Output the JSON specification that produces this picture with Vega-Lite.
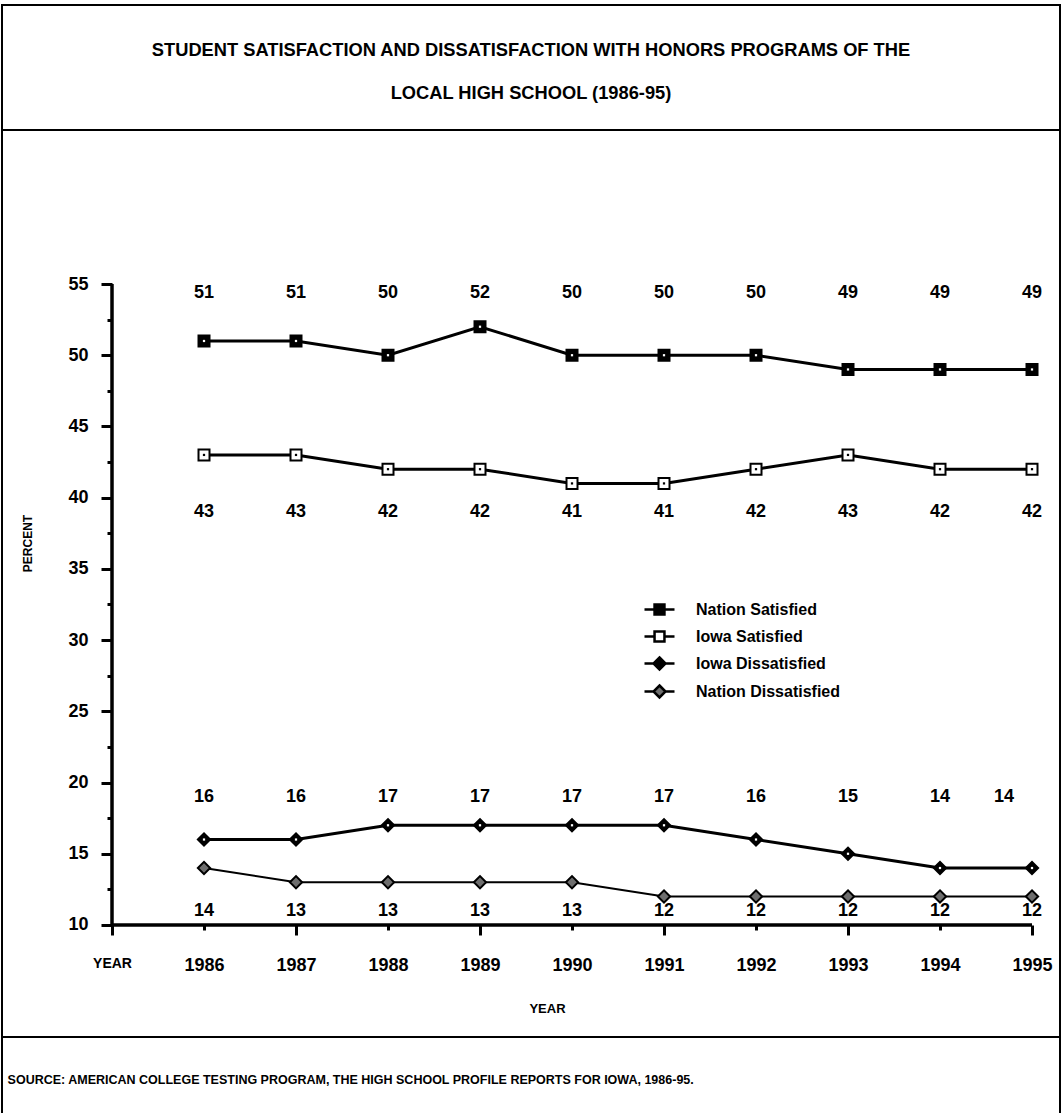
{
  "$schema": "https://vega.github.io/schema/vega-lite/v6.json",
  "width": 1058,
  "height": 1110,
  "autosize": {"type": "none"},
  "padding": {"left": 2, "top": 5, "right": 2, "bottom": 0},
  "background": "white",
  "config": {
    "view": {"stroke": "black", "strokeWidth": 2},
    "font": "Liberation Sans",
    "text": {"font": "Liberation Sans", "color": "black"}
  },
  "title": {
    "text": ["STUDENT SATISFACTION AND DISSATISFACTION WITH HONORS PROGRAMS OF THE", "LOCAL HIGH SCHOOL (1986-95)"],
    "font": "Liberation Sans",
    "fontSize": 18.3,
    "fontWeight": "bold",
    "lineHeight": 43,
    "anchor": "middle",
    "frame": "group",
    "color": "black",
    "offset": -98
  },
  "data": {
    "values": [
      {"year": 1986, "series": "Nation Satisfied", "value": 51},
      {"year": 1987, "series": "Nation Satisfied", "value": 51},
      {"year": 1988, "series": "Nation Satisfied", "value": 50},
      {"year": 1989, "series": "Nation Satisfied", "value": 52},
      {"year": 1990, "series": "Nation Satisfied", "value": 50},
      {"year": 1991, "series": "Nation Satisfied", "value": 50},
      {"year": 1992, "series": "Nation Satisfied", "value": 50},
      {"year": 1993, "series": "Nation Satisfied", "value": 49},
      {"year": 1994, "series": "Nation Satisfied", "value": 49},
      {"year": 1995, "series": "Nation Satisfied", "value": 49},
      {"year": 1986, "series": "Iowa Satisfied", "value": 43},
      {"year": 1987, "series": "Iowa Satisfied", "value": 43},
      {"year": 1988, "series": "Iowa Satisfied", "value": 42},
      {"year": 1989, "series": "Iowa Satisfied", "value": 42},
      {"year": 1990, "series": "Iowa Satisfied", "value": 41},
      {"year": 1991, "series": "Iowa Satisfied", "value": 41},
      {"year": 1992, "series": "Iowa Satisfied", "value": 42},
      {"year": 1993, "series": "Iowa Satisfied", "value": 43},
      {"year": 1994, "series": "Iowa Satisfied", "value": 42},
      {"year": 1995, "series": "Iowa Satisfied", "value": 42},
      {"year": 1986, "series": "Iowa Dissatisfied", "value": 16},
      {"year": 1987, "series": "Iowa Dissatisfied", "value": 16},
      {"year": 1988, "series": "Iowa Dissatisfied", "value": 17},
      {"year": 1989, "series": "Iowa Dissatisfied", "value": 17},
      {"year": 1990, "series": "Iowa Dissatisfied", "value": 17},
      {"year": 1991, "series": "Iowa Dissatisfied", "value": 17},
      {"year": 1992, "series": "Iowa Dissatisfied", "value": 16},
      {"year": 1993, "series": "Iowa Dissatisfied", "value": 15},
      {"year": 1994, "series": "Iowa Dissatisfied", "value": 14},
      {"year": 1995, "series": "Iowa Dissatisfied", "value": 14},
      {"year": 1986, "series": "Nation Dissatisfied", "value": 14},
      {"year": 1987, "series": "Nation Dissatisfied", "value": 13},
      {"year": 1988, "series": "Nation Dissatisfied", "value": 13},
      {"year": 1989, "series": "Nation Dissatisfied", "value": 13},
      {"year": 1990, "series": "Nation Dissatisfied", "value": 13},
      {"year": 1991, "series": "Nation Dissatisfied", "value": 12},
      {"year": 1992, "series": "Nation Dissatisfied", "value": 12},
      {"year": 1993, "series": "Nation Dissatisfied", "value": 12},
      {"year": 1994, "series": "Nation Dissatisfied", "value": 12},
      {"year": 1995, "series": "Nation Dissatisfied", "value": 12}
    ]
  },
  "layer": [
    {
      "transform": [{"filter": "datum.series != 'Nation Dissatisfied'"}],
      "mark": {"type": "line", "color": "black", "strokeWidth": 3},
      "encoding": {
        "x": {
          "field": "year", "type": "quantitative",
          "scale": {"domain": [1983.8043, 1995.3043], "nice": false, "zero": false},
          "axis": {
            "values": [1985, 1986, 1987, 1988, 1989, 1990, 1991, 1992, 1993, 1994, 1995],
            "labelExpr": "datum.value == 1985 ? 'YEAR' : '' + datum.value",
            "domain": false, "grid": false, "offset": -190,
            "tickColor": "black", "tickWidth": 3,
            "tickSize": {"condition": {"test": "datum.value % 2 == 1", "value": 10}, "value": 5},
            "labelPadding": {"condition": {"test": "datum.value % 2 == 1", "value": 21}, "value": 26},
            "labelFontSize": {"condition": {"test": "datum.value == 1985", "value": 14}, "value": 18},
            "labelFont": "Liberation Sans", "labelFontWeight": "bold", "labelColor": "black",
            "labelFlush": false, "labelOverlap": false,
            "title": "YEAR", "titleFont": "Liberation Sans", "titleFontSize": 13, "titleFontWeight": "bold",
            "titleColor": "black", "titleX": 545, "titleY": 83, "titleBaseline": "middle", "titleAlign": "center"
          }
        },
        "y": {
          "field": "value", "type": "quantitative",
          "scale": {"domain": [-3.339, 74.587], "nice": false, "zero": false},
          "axis": {
            "values": [10, 12.5, 15, 17.5, 20, 22.5, 25, 27.5, 30, 32.5, 35, 37.5, 40, 42.5, 45, 47.5, 50, 52.5, 55],
            "labelExpr": "datum.value % 5 == 0 ? datum.label : ''",
            "domain": false, "grid": false, "offset": -110,
            "tickColor": "black", "tickWidth": 3,
            "tickSize": {"condition": {"test": "datum.value % 5 == 0", "value": 11}, "value": 5},
            "labelFont": "Liberation Sans", "labelFontWeight": "bold", "labelColor": "black",
            "labelFontSize": 18, "labelPadding": 13, "labelFlush": false, "labelOverlap": false,
            "title": "PERCENT", "titleFont": "Liberation Sans", "titleFontSize": 12, "titleFontWeight": "bold",
            "titleColor": "black", "titleX": -85, "titleY": 538, "titleAngle": -90,
            "titleBaseline": "middle", "titleAlign": "center"
          }
        },
        "detail": {"field": "series"}
      }
    },
    {
      "transform": [{"filter": "datum.series == 'Nation Dissatisfied'"}],
      "mark": {"type": "line", "color": "black", "strokeWidth": 2},
      "encoding": {
        "x": {"field": "year", "type": "quantitative", "scale": {"domain": [1983.8043, 1995.3043], "nice": false, "zero": false}},
        "y": {"field": "value", "type": "quantitative", "scale": {"domain": [-3.339, 74.587], "nice": false, "zero": false}}
      }
    },
    {
      "data": {"values": [{}]},
      "mark": {"type": "rule", "color": "black", "strokeWidth": 3.5},
      "encoding": {
        "x": {"datum": 1985, "type": "quantitative", "scale": {"domain": [1983.8043, 1995.3043], "nice": false, "zero": false}},
        "x2": {"datum": 1995},
        "y": {"datum": 10, "type": "quantitative", "scale": {"domain": [-3.339, 74.587], "nice": false, "zero": false}}
      }
    },
    {
      "data": {"values": [{}]},
      "mark": {"type": "rule", "color": "black", "strokeWidth": 3.5},
      "encoding": {
        "x": {"datum": 1985, "type": "quantitative", "scale": {"domain": [1983.8043, 1995.3043], "nice": false, "zero": false}},
        "y": {"datum": 10, "type": "quantitative", "scale": {"domain": [-3.339, 74.587], "nice": false, "zero": false}},
        "y2": {"datum": 55}
      }
    },
    {
      "data": {"values": [{}]},
      "mark": {"type": "rule", "color": "black", "strokeWidth": 2},
      "encoding": {
        "y": {"datum": 65.811, "type": "quantitative", "scale": {"domain": [-3.339, 74.587], "nice": false, "zero": false}}
      }
    },
    {
      "data": {"values": [{}]},
      "mark": {"type": "rule", "color": "black", "strokeWidth": 2},
      "encoding": {
        "y": {"datum": 2.135, "type": "quantitative", "scale": {"domain": [-3.339, 74.587], "nice": false, "zero": false}}
      }
    },
    {
      "mark": {"type": "point", "filled": true, "stroke": "black", "strokeWidth": 2, "opacity": 1},
      "encoding": {
        "x": {"field": "year", "type": "quantitative", "scale": {"domain": [1983.8043, 1995.3043], "nice": false, "zero": false}},
        "y": {"field": "value", "type": "quantitative", "scale": {"domain": [-3.339, 74.587], "nice": false, "zero": false}},
        "shape": {"condition": {"test": "datum.series == 'Nation Satisfied' || datum.series == 'Iowa Satisfied'", "value": "square"}, "value": "diamond"},
        "size": {"condition": {"test": "datum.series == 'Nation Satisfied' || datum.series == 'Iowa Satisfied'", "value": 121}, "value": 150},
        "fill": {"condition": [
          {"test": "datum.series == 'Iowa Satisfied'", "value": "white"},
          {"test": "datum.series == 'Nation Dissatisfied'", "value": "#6e6e6e"}
        ], "value": "black"}
      }
    },
    {
      "transform": [{"filter": "datum.series != 'Nation Dissatisfied'"}],
      "mark": {"type": "point", "filled": true, "shape": "square", "size": 5, "opacity": 1},
      "encoding": {
        "x": {"field": "year", "type": "quantitative", "scale": {"domain": [1983.8043, 1995.3043], "nice": false, "zero": false}},
        "y": {"field": "value", "type": "quantitative", "scale": {"domain": [-3.339, 74.587], "nice": false, "zero": false}},
        "fill": {"condition": {"test": "datum.series == 'Iowa Satisfied'", "value": "black"}, "value": "white"}
      }
    },
    {
      "mark": {"type": "point", "filled": true, "opacity": 0, "stroke": "black"},
      "encoding": {
        "x": {"field": "year", "type": "quantitative", "scale": {"domain": [1983.8043, 1995.3043], "nice": false, "zero": false}},
        "y": {"field": "value", "type": "quantitative", "scale": {"domain": [-3.339, 74.587], "nice": false, "zero": false}},
        "shape": {
          "field": "series", "type": "nominal",
          "scale": {
            "domain": ["Nation Satisfied", "Iowa Satisfied", "Iowa Dissatisfied", "Nation Dissatisfied"],
            "range": [
              "M-1,0H-0.33M0.33,0H1M-0.33,-0.33H0.33V0.33H-0.33Z",
              "M-1,0H-0.33M0.33,0H1M-0.33,-0.33H0.33V0.33H-0.33Z",
              "M-1,0H-0.4M0.4,0H1M0,-0.4L0.4,0L0,0.4L-0.4,0Z",
              "M-1,0H-0.4M0.4,0H1M0,-0.4L0.4,0L0,0.4L-0.4,0Z"
            ]
          },
          "legend": {
            "title": null, "orient": "none", "legendX": 641, "legendY": 588,
            "symbolSize": 900, "symbolStrokeWidth": 2.5, "symbolStrokeColor": "black", "symbolOpacity": 1,
            "labelFont": "Liberation Sans", "labelFontSize": 16, "labelFontWeight": "bold", "labelColor": "black", "labelOffset": 20,
            "rowPadding": 0, "padding": 0, "labelLimit": 300,
            "encode": {"symbols": {"update": {"stroke": {"value": "black"}, "strokeWidth": {"value": 2.5}, "opacity": {"value": 1}}}}
          }
        },
        "fill": {
          "field": "series", "type": "nominal",
          "scale": {
            "domain": ["Nation Satisfied", "Iowa Satisfied", "Iowa Dissatisfied", "Nation Dissatisfied"],
            "range": ["black", "white", "black", "#6e6e6e"]
          },
          "legend": {
            "title": null, "orient": "none", "legendX": 641, "legendY": 588,
            "symbolSize": 900, "symbolStrokeWidth": 2.5, "symbolStrokeColor": "black", "symbolOpacity": 1,
            "labelFont": "Liberation Sans", "labelFontSize": 16, "labelFontWeight": "bold", "labelColor": "black", "labelOffset": 20,
            "rowPadding": 0, "padding": 0, "labelLimit": 300,
            "encode": {"symbols": {"update": {"stroke": {"value": "black"}, "strokeWidth": {"value": 2.5}, "opacity": {"value": 1}}}}
          }
        }
      }
    },
    {
      "transform": [{"filter": "datum.series == 'Nation Satisfied'"}],
      "mark": {"type": "text", "fontSize": 18, "fontWeight": "bold", "baseline": "middle", "align": "center"},
      "encoding": {
        "x": {"field": "year", "type": "quantitative", "scale": {"domain": [1983.8043, 1995.3043], "nice": false, "zero": false}},
        "y": {"datum": 54.37, "type": "quantitative", "scale": {"domain": [-3.339, 74.587], "nice": false, "zero": false}},
        "text": {"field": "value", "type": "quantitative"}
      }
    },
    {
      "transform": [{"filter": "datum.series == 'Iowa Satisfied'"}],
      "mark": {"type": "text", "fontSize": 18, "fontWeight": "bold", "baseline": "middle", "align": "center"},
      "encoding": {
        "x": {"field": "year", "type": "quantitative", "scale": {"domain": [1983.8043, 1995.3043], "nice": false, "zero": false}},
        "y": {"datum": 38.99, "type": "quantitative", "scale": {"domain": [-3.339, 74.587], "nice": false, "zero": false}},
        "text": {"field": "value", "type": "quantitative"}
      }
    },
    {
      "transform": [{"filter": "datum.series == 'Iowa Dissatisfied' && datum.year < 1995"}],
      "mark": {"type": "text", "fontSize": 18, "fontWeight": "bold", "baseline": "middle", "align": "center"},
      "encoding": {
        "x": {"field": "year", "type": "quantitative", "scale": {"domain": [1983.8043, 1995.3043], "nice": false, "zero": false}},
        "y": {"datum": 18.98, "type": "quantitative", "scale": {"domain": [-3.339, 74.587], "nice": false, "zero": false}},
        "text": {"field": "value", "type": "quantitative"}
      }
    },
    {
      "transform": [{"filter": "datum.series == 'Iowa Dissatisfied' && datum.year == 1995"}],
      "mark": {"type": "text", "fontSize": 18, "fontWeight": "bold", "baseline": "middle", "align": "center", "dx": -28},
      "encoding": {
        "x": {"field": "year", "type": "quantitative", "scale": {"domain": [1983.8043, 1995.3043], "nice": false, "zero": false}},
        "y": {"datum": 18.98, "type": "quantitative", "scale": {"domain": [-3.339, 74.587], "nice": false, "zero": false}},
        "text": {"field": "value", "type": "quantitative"}
      }
    },
    {
      "transform": [{"filter": "datum.series == 'Nation Dissatisfied'"}],
      "mark": {"type": "text", "fontSize": 18, "fontWeight": "bold", "baseline": "middle", "align": "center"},
      "encoding": {
        "x": {"field": "year", "type": "quantitative", "scale": {"domain": [1983.8043, 1995.3043], "nice": false, "zero": false}},
        "y": {"datum": 11.0, "type": "quantitative", "scale": {"domain": [-3.339, 74.587], "nice": false, "zero": false}},
        "text": {"field": "value", "type": "quantitative"}
      }
    },
    {
      "data": {"values": [{"note": "SOURCE: AMERICAN COLLEGE TESTING PROGRAM, THE HIGH SCHOOL PROFILE REPORTS FOR IOWA, 1986-95."}]},
      "mark": {"type": "text", "fontSize": 12.5, "fontWeight": "bold", "baseline": "middle", "align": "left"},
      "encoding": {
        "x": {"datum": 1983.865, "type": "quantitative", "scale": {"domain": [1983.8043, 1995.3043], "nice": false, "zero": false}},
        "y": {"datum": -0.883, "type": "quantitative", "scale": {"domain": [-3.339, 74.587], "nice": false, "zero": false}},
        "text": {"field": "note"}
      }
    }
  ]
}
